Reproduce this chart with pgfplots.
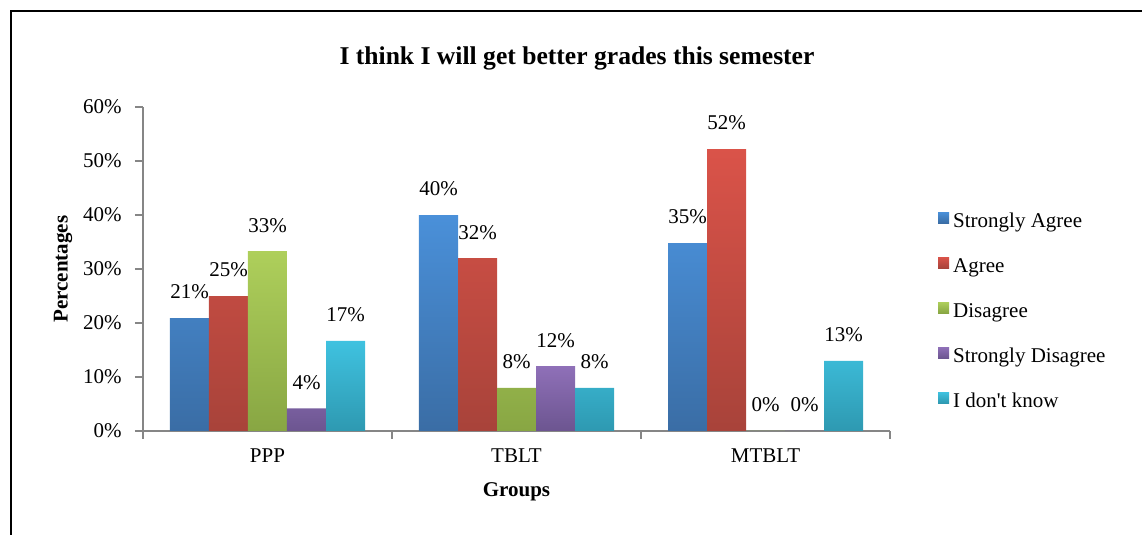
\documentclass[border=0pt]{standalone}
\usepackage{fontspec}
\setmainfont{Liberation Serif}
\usepackage{pgfplots}
\pgfplotsset{compat=1.18}
\definecolor{axisgray}{HTML}{868686}
\definecolor{c1t}{HTML}{4A90D9}\definecolor{c1b}{HTML}{3A6DA5}
\definecolor{c2t}{HTML}{DA5349}\definecolor{c2b}{HTML}{A8433A}
\definecolor{c3t}{HTML}{AECF5B}\definecolor{c3b}{HTML}{88A643}
\definecolor{c4t}{HTML}{8F70B8}\definecolor{c4b}{HTML}{6C5590}
\definecolor{c5t}{HTML}{3FC2E0}\definecolor{c5b}{HTML}{2E99B1}
\begin{document}
\fontsize{10.5pt}{12.6pt}\selectfont
\begin{tikzpicture}
\useasboundingbox (0,0) rectangle (571pt,267.5pt);
\draw[line width=0.75pt] (5.5pt,-5pt) -- (5.5pt,262pt) -- (580pt,262pt);
\begin{axis}[
  at={(71.5pt,52pt)}, anchor=south west,
  scale only axis, width=373.5pt, height=162pt,
  xmin=-0.5, xmax=2.5, ymin=0, ymax=60,
  ybar=0pt, bar width=19.5pt,
  axis x line*=bottom, axis y line*=left,
  axis line style={draw=axisgray, line width=0.75pt, -},
  /pgf/number format/assume math mode=true,
  xtick={0,1,2}, xticklabels={PPP,TBLT,MTBLT},
  ytick={0,10,...,60}, yticklabel={\pgfmathprintnumber{\tick}\%},
  tick align=outside, major tick length=4pt,
  tick style={draw=axisgray, line width=0.75pt},
  xtick style={draw=none},
  extra x ticks={-0.5,0.5,1.5,2.5}, extra x tick labels={},
  extra x tick style={xtick style={draw=axisgray, line width=0.75pt}},
  xticklabel style={yshift=-1pt},
  yticklabel style={xshift=-3pt},
  xlabel={\bfseries Groups},
  xlabel style={at={(axis description cs:0.5,-0.188)}, anchor=center},
  ylabel={\bfseries Percentages},
  ylabel style={at={(axis description cs:-0.1071,0.5)}, anchor=center, rotate=0},
  title={\fontsize{12.8pt}{15pt}\selectfont\bfseries I think I will get better grades this semester},
  title style={at={(axis description cs:0.581,1.114)}, anchor=center},
  nodes near coords={\pgfmathprintnumber[fixed,precision=0]{\pgfplotspointmeta}\%},
  nodes near coords style={anchor=center, yshift=13pt, text=black},
  legend style={draw=none, fill=none, at={(1.064,0.677)}, anchor=north west,
    inner sep=0pt, row sep=12.5pt,
    nodes={text height=7.5pt, text depth=2.5pt, inner ysep=0pt, inner xsep=2pt}},
  legend cell align=left,
  legend image code/.code={\fill[#1] (0pt,-0.5pt) rectangle (5.5pt,5pt);},
  clip=false,
]
\addplot[draw=none, top color=c1t, bottom color=c1b] coordinates {(0,20.9) (1,40) (2,34.8)};
\addplot[draw=none, top color=c2t, bottom color=c2b] coordinates {(0,25) (1,32) (2,52.2)};
\addplot[draw=none, top color=c3t, bottom color=c3b] coordinates {(0,33.3) (1,8) (2,0)};
\addplot[draw=none, top color=c4t, bottom color=c4b] coordinates {(0,4.2) (1,12) (2,0)};
\addplot[draw=none, top color=c5t, bottom color=c5b] coordinates {(0,16.7) (1,8) (2,13)};
\legend{Strongly Agree,Agree,Disagree,Strongly Disagree,I don\textquotesingle t know}
\end{axis}
\end{tikzpicture}
\end{document}
